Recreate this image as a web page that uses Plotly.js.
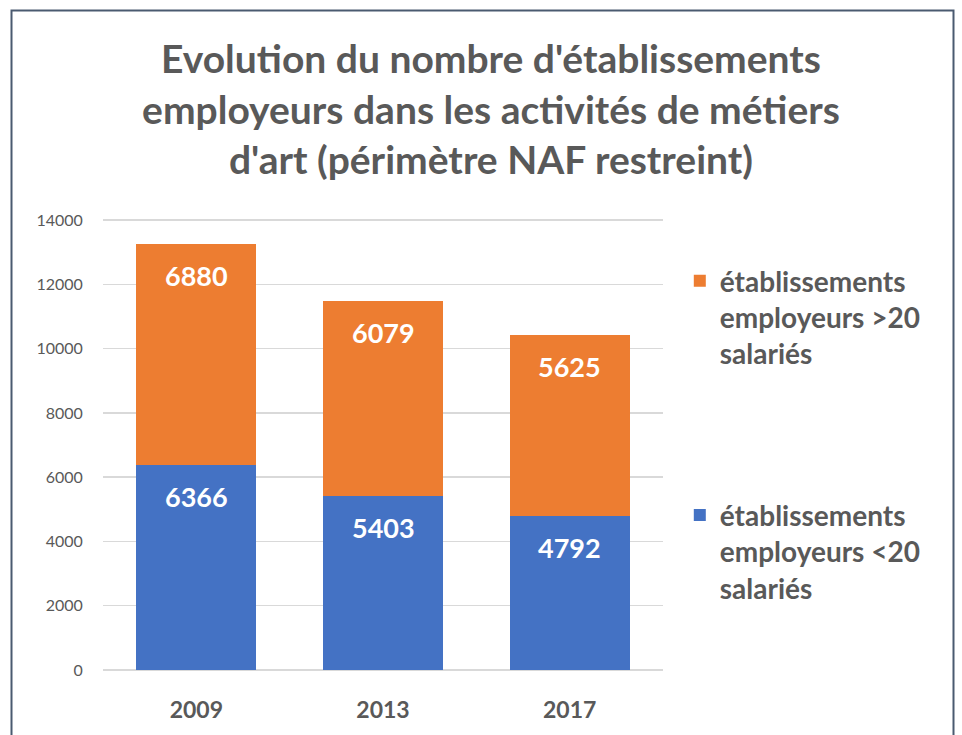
<!DOCTYPE html>
<html>
<head>
<meta charset="utf-8">
<script src="https://cdn.plot.ly/plotly-3.0.1.min.js"></script>
<style>
html,body{margin:0;padding:0;background:#fff;}
#chart{width:962px;height:735px;}
</style>
</head>
<body>
<div id="chart"></div>
<script>
const years = ["2009", "2013", "2017"];
const under20 = [6366, 5403, 4792];
const over20 = [6880, 6079, 5625];
const nameUnder = "établissements<br>employeurs <20<br>salariés";
const nameOver = "établissements<br>employeurs >20<br>salariés";
const titleText = "Evolution du nombre d'établissements<br>employeurs dans les activités de métiers<br>d'art (périmètre NAF restreint)";
const yTicks = [0, 2000, 4000, 6000, 8000, 10000, 12000, 14000];

const FONT = "Lato, 'Open Sans', sans-serif";
const GREY = "#595959";

const traces = [
  {type: "bar", x: years, y: under20, name: nameUnder, legendgroup: "a", legendrank: 2,
   marker: {color: "#4472C4"}, hoverinfo: "none"},
  {type: "bar", x: years, y: over20, name: nameOver, legendgroup: "b", legendrank: 1,
   marker: {color: "#ED7D31"}, hoverinfo: "none"}
];

const annotations = [];
years.forEach((yr, i) => {
  annotations.push({x: i, y: under20[i], xref: "x", yref: "y", text: String(under20[i]),
    showarrow: false, yshift: -31, font: {family: FONT, size: 27, color: "#ffffff", weight: "bold"}});
  annotations.push({x: i, y: under20[i] + over20[i], xref: "x", yref: "y", text: String(over20[i]),
    showarrow: false, yshift: -31, font: {family: FONT, size: 27, color: "#ffffff", weight: "bold"}});
});

// plot area: y=0 at 670px, y=14000 at 220px; range extended slightly so the top gridline shows
const PT = 217, PB = 65, PH = 735 - PT - PB;
const layout = {
  width: 962, height: 735,
  margin: {l: 103, r: 299, t: PT, b: PB},
  paper_bgcolor: "#ffffff", plot_bgcolor: "#ffffff",
  barmode: "stack", bargap: 0.357,
  font: {family: FONT, color: GREY},
  title: {text: titleText, x: 491 / 962, xanchor: "center", xref: "container", y: 1 - 73/735, yanchor: "top", yref: "container",
    font: {family: FONT, size: 39, color: GREY, weight: "bold"}},
  xaxis: {type: "category", range: [-0.5, 2.5], tickfont: {family: FONT, size: 23, color: GREY, weight: "bold"},
    showgrid: false, showline: false, ticks: "outside", ticklen: 19, tickcolor: "rgba(0,0,0,0)", zeroline: false},
  yaxis: {range: [0, 14100], tickvals: yTicks, ticktext: yTicks.map(String),
    tickfont: {family: FONT, size: 16, color: GREY},
    showgrid: true, gridcolor: "#d9d9d9", gridwidth: 1.5, zeroline: true, zerolinecolor: "#d9d9d9", zerolinewidth: 1.5,
    showline: false, ticks: "outside", ticklen: 16, tickcolor: "rgba(0,0,0,0)"},
  legend: {x: 1.030, xanchor: "left", y: (670 - 256) / PH, yanchor: "top", traceorder: "grouped",
    tracegroupgap: 122, valign: "top",
    font: {family: FONT, size: 28, color: GREY, weight: "bold"}, bgcolor: "rgba(0,0,0,0)"},
  annotations: annotations,
  shapes: [{type: "rect", xref: "paper", yref: "paper",
    x0: (11.5 - 103) / 560, x1: (953.5 - 103) / 560,
    y0: (670 - 745) / PH, y1: (670 - 10.5) / PH,
    line: {color: "#4a5a70", width: 2}, fillcolor: "rgba(0,0,0,0)", layer: "below"}]
};

Plotly.newPlot("chart", traces, layout, {staticPlot: true, displayModeBar: false});
</script>
</body>
</html>
